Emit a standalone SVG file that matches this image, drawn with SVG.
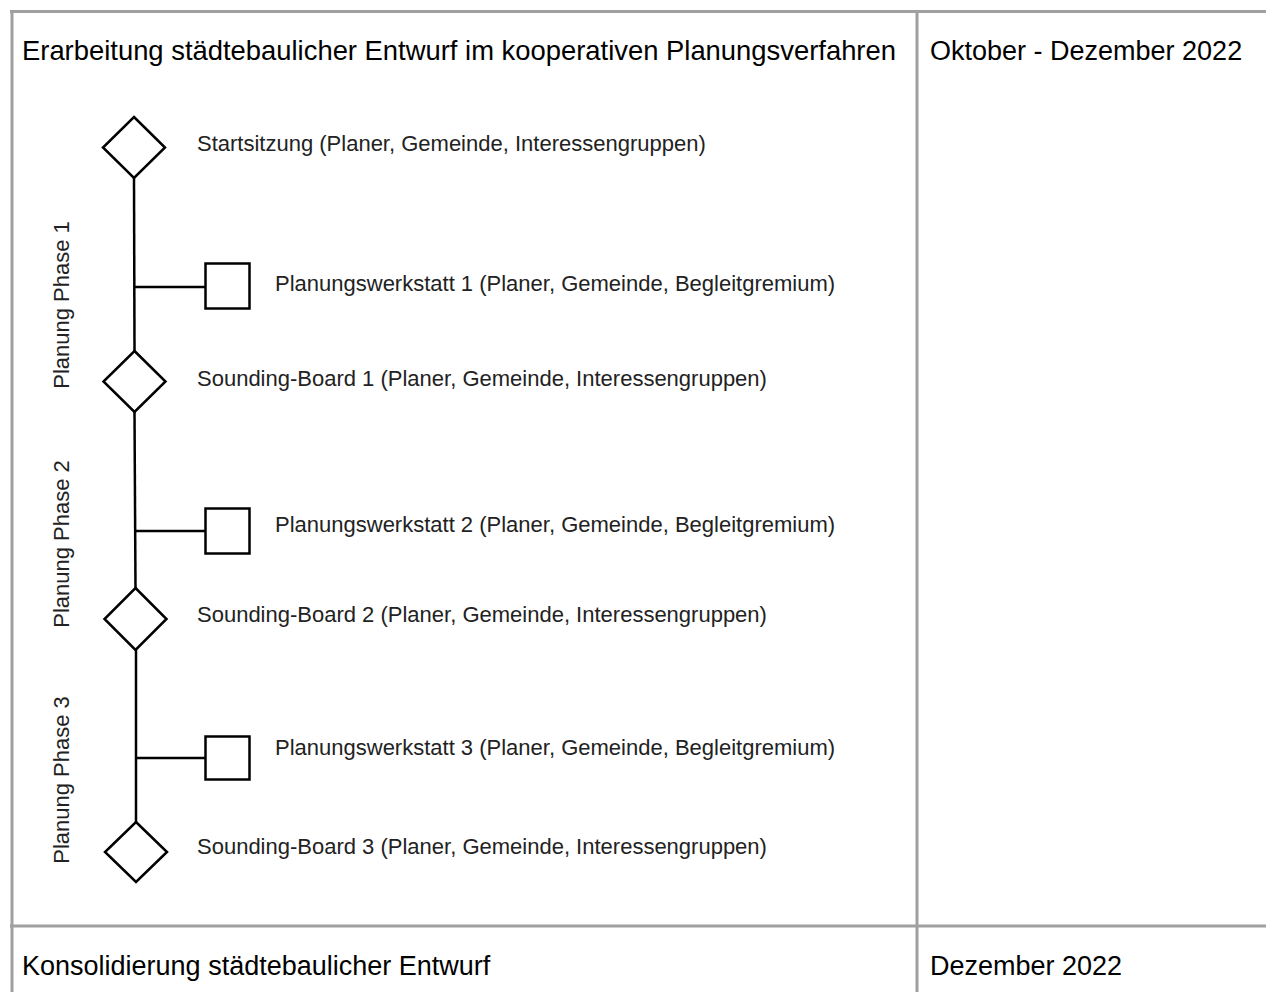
<svg xmlns="http://www.w3.org/2000/svg" width="1266" height="992" viewBox="0 0 1266 992">
<style>
.grid{stroke:#a0a0a0;stroke-width:3;fill:none}
.shape{fill:#fff;stroke:#000;stroke-width:2.5}
.conn{stroke:#000;stroke-width:2.5;fill:none}
.head{font-family:"Liberation Sans",Arial,sans-serif;font-size:27px;fill:#000}
.lbl{font-family:"Liberation Sans",Arial,sans-serif;font-size:22px;fill:#222}
</style>
<rect width="1266" height="992" fill="#fff"/>
<g id="table">
<line class="grid" x1="10" y1="11.5" x2="1266" y2="11.5"/>
<line class="grid" x1="12" y1="10" x2="12" y2="992"/>
<line class="grid" x1="917" y1="10" x2="917" y2="992"/>
<line class="grid" x1="10" y1="926" x2="1266" y2="926"/>
<text class="head" x="22" y="60" style="font-size:27.4px">Erarbeitung städtebaulicher Entwurf im kooperativen Planungsverfahren</text>
<text class="head" x="930" y="60">Oktober - Dezember 2022</text>
<text class="head" x="22" y="975">Konsolidierung städtebaulicher Entwurf</text>
<text class="head" x="930" y="975">Dezember 2022</text>
</g>
<g id="phases">
<text class="lbl" transform="translate(69,305) rotate(-90)" text-anchor="middle">Planung Phase 1</text>
<text class="lbl" transform="translate(69,544) rotate(-90)" text-anchor="middle">Planung Phase 2</text>
<text class="lbl" transform="translate(69,780) rotate(-90)" text-anchor="middle">Planung Phase 3</text>
</g>
<g id="connectors">
<line class="conn" x1="134" y1="178" x2="134.5" y2="351"/>
<line class="conn" x1="134.5" y1="412" x2="135.5" y2="588"/>
<line class="conn" x1="136" y1="650" x2="136" y2="822"/>
<line class="conn" x1="134" y1="287" x2="206" y2="287"/>
<line class="conn" x1="135" y1="531" x2="206" y2="531"/>
<line class="conn" x1="136" y1="758" x2="206" y2="758"/>
</g>
<g id="start">
<polygon class="shape" points="134,117 165,147.5 134,178 103,147.5"/>
<text class="lbl" x="197" y="151">Startsitzung (Planer, Gemeinde, Interessengruppen)</text>
</g>
<g id="werkstatt1">
<rect class="shape" x="205.5" y="263.5" width="44" height="45"/>
<text class="lbl" x="275" y="291">Planungswerkstatt 1 (Planer, Gemeinde, Begleitgremium)</text>
</g>
<g id="board1">
<polygon class="shape" points="134.5,351 165.5,381.5 134.5,412 103.5,381.5"/>
<text class="lbl" x="197" y="386">Sounding-Board 1 (Planer, Gemeinde, Interessengruppen)</text>
</g>
<g id="werkstatt2">
<rect class="shape" x="205.5" y="508.5" width="44" height="45"/>
<text class="lbl" x="275" y="532">Planungswerkstatt 2 (Planer, Gemeinde, Begleitgremium)</text>
</g>
<g id="board2">
<polygon class="shape" points="135.5,588 166.5,619 135.5,650 104.5,619"/>
<text class="lbl" x="197" y="622">Sounding-Board 2 (Planer, Gemeinde, Interessengruppen)</text>
</g>
<g id="werkstatt3">
<rect class="shape" x="205.5" y="736.5" width="44" height="43"/>
<text class="lbl" x="275" y="755">Planungswerkstatt 3 (Planer, Gemeinde, Begleitgremium)</text>
</g>
<g id="board3">
<polygon class="shape" points="136,822 167,852 136,882 105,852"/>
<text class="lbl" x="197" y="854">Sounding-Board 3 (Planer, Gemeinde, Interessengruppen)</text>
</g>
</svg>
